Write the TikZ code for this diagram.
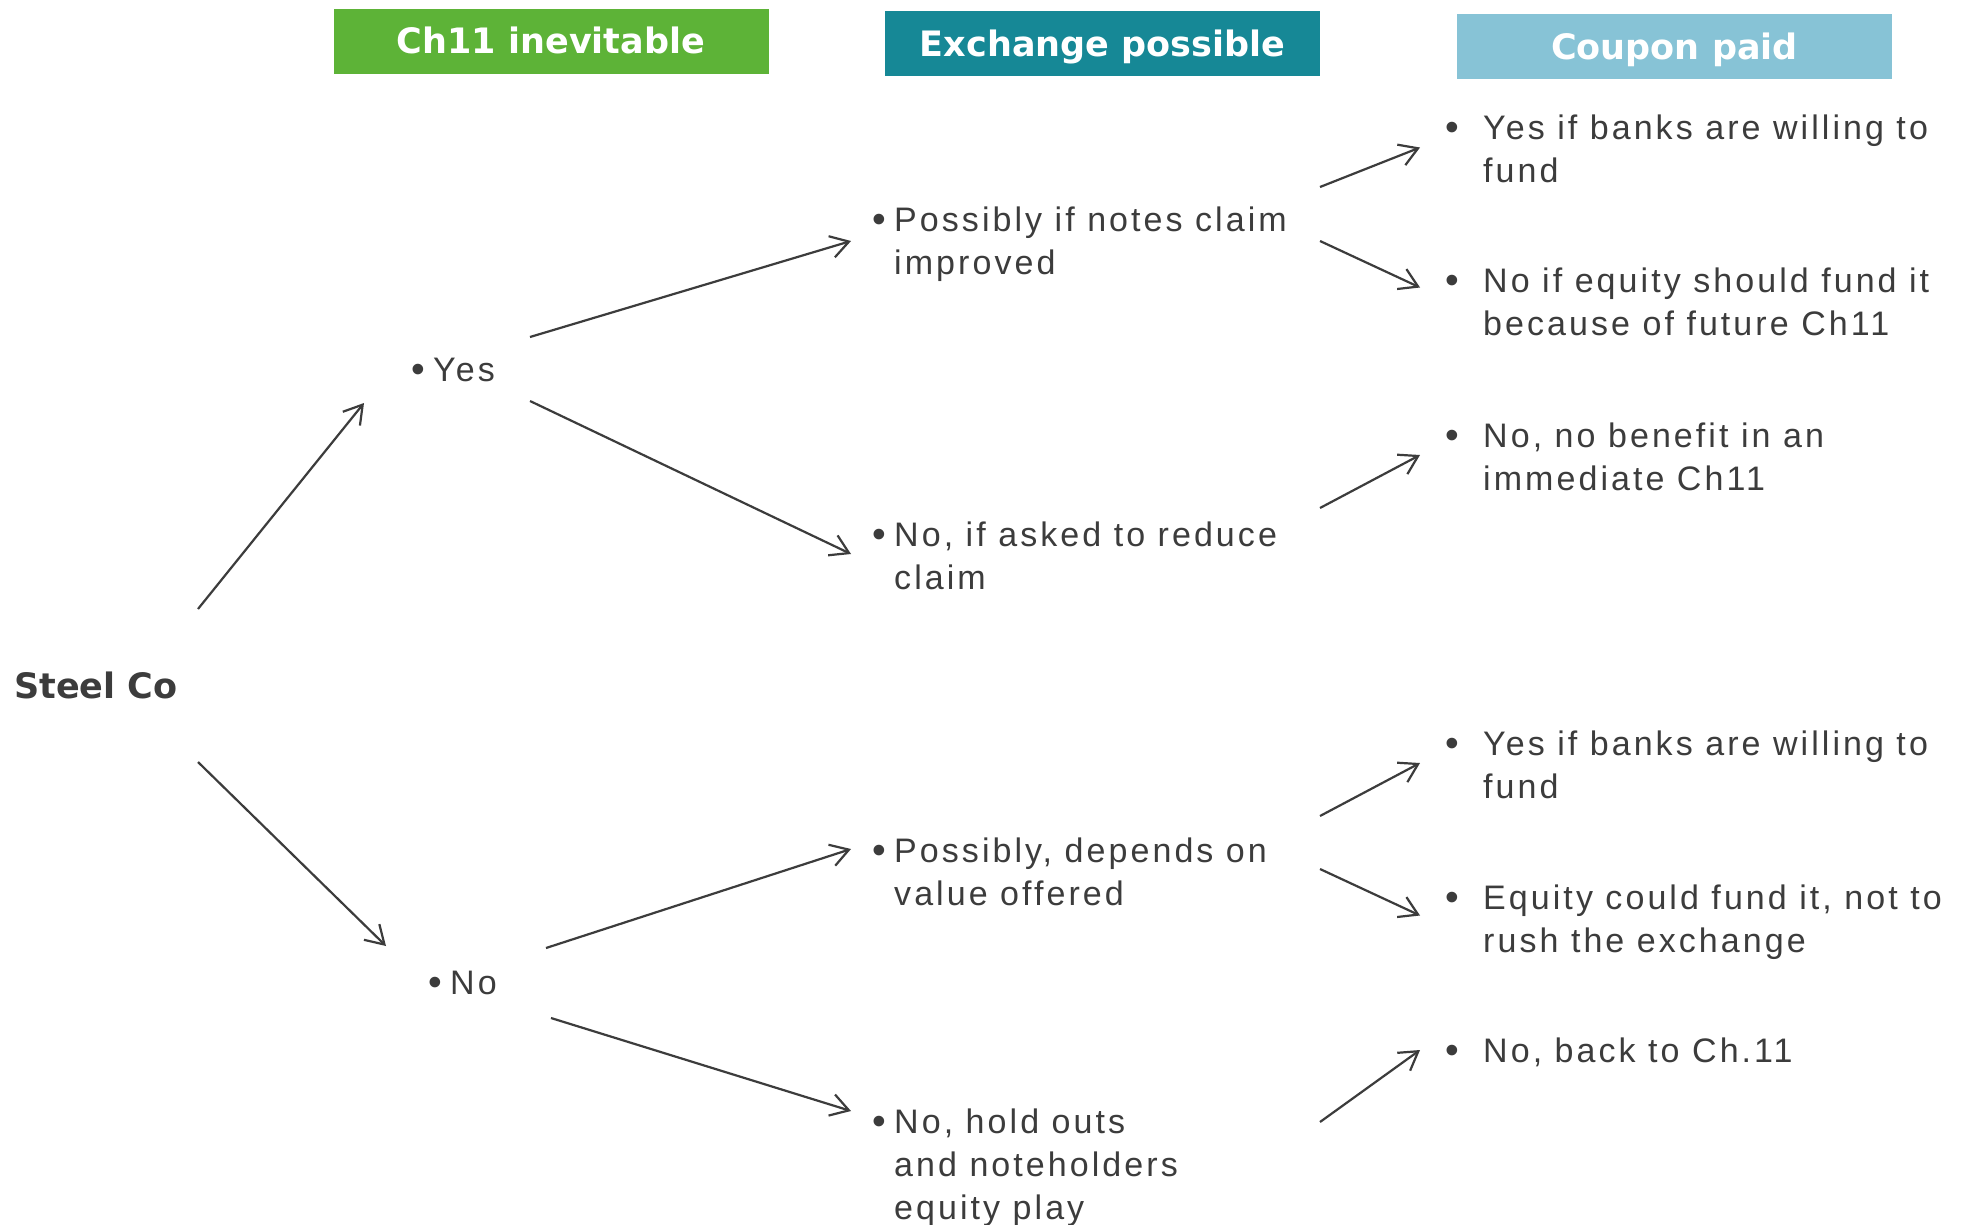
\documentclass[tikz,border=0pt]{standalone}
\usepackage{fontspec}
\usetikzlibrary{arrows.meta}
\newfontfamily\bodyfont{Liberation Sans}[LetterSpace=9]
\newfontfamily\headfont{DejaVu Sans}
\definecolor{ink}{HTML}{3C3C3C}
\definecolor{hgreen}{HTML}{5DB337}
\definecolor{hteal}{HTML}{168896}
\definecolor{hblue}{HTML}{87C3D6}
\newcommand{\lns}[1]{\begin{tabular}[t]{@{}l@{}}#1\end{tabular}}
\newcommand{\bul}{\raisebox{-1.5pt}{\scalebox{1.15}{\textbullet}}}
\newcommand{\bulA}{\llap{\bul\hspace{8pt}}}
\newcommand{\bulB}{\llap{\bul\hspace{24pt}}}
\tikzset{
  hdr/.style={inner sep=0pt, minimum width=435pt, minimum height=65pt,
    text height=25pt, text depth=0pt, text=white,
    font=\headfont\bfseries\fontsize{35}{42}\selectfont},
  body/.style={anchor=base west, inner sep=0pt, text=ink,
    font=\bodyfont\fontsize{34}{43}\selectfont},
  arr/.style={draw=ink, line width=2.2pt,
    -{Straight Barb[length=18pt,width=22pt]}}
}
\begin{document}
\begin{tikzpicture}[x=1pt,y=-1pt]
\useasboundingbox[fill=white] (0,0) rectangle (1977,1224);

% headers
\node[hdr, fill=hgreen] (hA) at (551,41) {Ch11 inevitable};
\node[hdr, fill=hteal]  (hB) at (1102.5,43.5) {Exchange possible};
\node[hdr, fill=hblue]  (hC) at (1674.5,46.5) {Coupon paid};

% root
\node[anchor=base west, inner sep=0pt, text=ink,
  font=\headfont\bfseries\fontsize{35}{42}\selectfont] (steel) at (14,698) {Steel Co};

% level 1
\node[body] (yes) at (433,381) {\bulA Yes};
\node[body] (no)  at (450,994) {\bulA No};

% level 2
\node[body] (pA) at (894,231) {\lns{\bulA Possibly if notes claim\\improved}};
\node[body] (nA) at (894,546) {\lns{\bulA No, if asked to reduce\\claim}};
\node[body] (pB) at (894,862) {\lns{\bulA Possibly, depends on\\value offered}};
\node[body] (nB) at (894,1133) {\lns{\bulA No, hold outs\\and noteholders\\equity play}};

% level 3
\node[body] (c1) at (1483,139) {\lns{\bulB Yes if banks are willing to\\fund}};
\node[body] (c2) at (1483,292) {\lns{\bulB No if equity should fund it\\because of future Ch11}};
\node[body] (c3) at (1483,447) {\lns{\bulB No, no benefit in an\\immediate Ch11}};
\node[body] (c4) at (1483,755) {\lns{\bulB Yes if banks are willing to\\fund}};
\node[body] (c5) at (1483,909) {\lns{\bulB Equity could fund it, not to\\rush the exchange}};
\node[body] (c6) at (1483,1062) {\lns{\bulB No, back to Ch.11}};

% connector end points
\coordinate (steelUp) at (198,609);
\coordinate (steelDn) at (198,762);
\coordinate (yesIn)   at (364,403);
\coordinate (noIn)    at (386,946);
\coordinate (yesOutA) at (530,337);
\coordinate (yesOutB) at (530,401);
\coordinate (noOutA)  at (546,948);
\coordinate (noOutB)  at (551,1018);
\coordinate (pAin) at (851,241);
\coordinate (nAin) at (851,554);
\coordinate (pBin) at (851,849);
\coordinate (nBin) at (851,1111);
\coordinate (pAoutA) at (1320,187);
\coordinate (pAoutB) at (1320,241);
\coordinate (nAout)  at (1320,508);
\coordinate (pBoutA) at (1320,816);
\coordinate (pBoutB) at (1320,869);
\coordinate (nBout)  at (1320,1122);
\coordinate (c1in) at (1420,147.5);
\coordinate (c2in) at (1420,287.5);
\coordinate (c3in) at (1420,455);
\coordinate (c4in) at (1420,763);
\coordinate (c5in) at (1420,915.5);
\coordinate (c6in) at (1420,1050);

% connectors
\draw[arr] (steelUp) -- (yesIn);
\draw[arr] (steelDn) -- (noIn);
\draw[arr] (yesOutA) -- (pAin);
\draw[arr] (yesOutB) -- (nAin);
\draw[arr] (noOutA) -- (pBin);
\draw[arr] (noOutB) -- (nBin);
\draw[arr] (pAoutA) -- (c1in);
\draw[arr] (pAoutB) -- (c2in);
\draw[arr] (nAout) -- (c3in);
\draw[arr] (pBoutA) -- (c4in);
\draw[arr] (pBoutB) -- (c5in);
\draw[arr] (nBout) -- (c6in);
\end{tikzpicture}
\end{document}
